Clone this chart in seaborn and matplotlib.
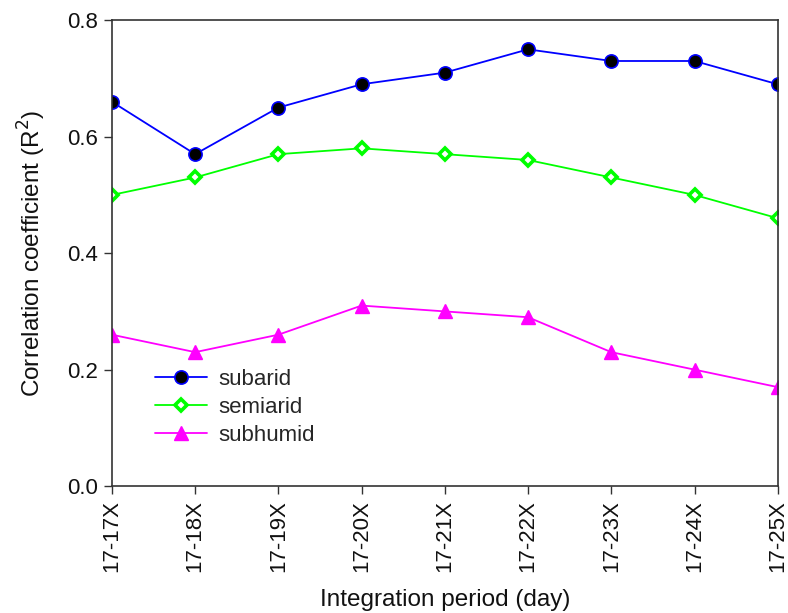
import matplotlib
matplotlib.use("Agg")
import matplotlib.pyplot as plt
import seaborn as sns
import pandas as pd

periods = ["17-17X", "17-18X", "17-19X", "17-20X", "17-21X", "17-22X", "17-23X", "17-24X", "17-25X"]
subarid = [0.66, 0.57, 0.65, 0.69, 0.71, 0.75, 0.73, 0.73, 0.69]
semiarid = [0.50, 0.53, 0.57, 0.58, 0.57, 0.56, 0.53, 0.50, 0.46]
subhumid = [0.26, 0.23, 0.26, 0.31, 0.30, 0.29, 0.23, 0.20, 0.17]
y_ticks = [0.0, 0.2, 0.4, 0.6, 0.8]

sns.set_style("white")
plt.rcParams["font.family"] = ["Liberation Sans", "DejaVu Sans"]

fig = plt.figure(figsize=(7.88, 6.13), dpi=100)
ax = fig.add_axes([0.142, 0.207, 0.845, 0.760])

idx = list(range(len(periods)))
styles = [
    ("subarid", subarid, dict(color="#0000ff", marker="o", markersize=9.5,
                              markerfacecolor="black", markeredgecolor="#0000ff", markeredgewidth=1.2)),
    ("semiarid", semiarid, dict(color="#00ff00", marker="D", markersize=6.5,
                                markerfacecolor="white", markeredgecolor="#00ff00", markeredgewidth=2.6)),
    ("subhumid", subhumid, dict(color="#ff00ff", marker="^", markersize=10,
                                markerfacecolor="#ff00ff", markeredgecolor="#ff00ff", markeredgewidth=1)),
]
for name, vals, kw in styles:
    df = pd.DataFrame({"x": idx, "y": vals})
    sns.lineplot(data=df, x="x", y="y", ax=ax, linewidth=1.3, label=name, **kw)

ax.set_xlim(0, len(periods) - 1)
ax.set_ylim(0, 0.8)
ax.set_xticks(idx)
ax.set_xticklabels(periods, rotation=90, fontsize=16)
ax.set_yticks(y_ticks)
ax.set_yticklabels([f"{t:.1f}" for t in y_ticks], fontsize=16)
ax.tick_params(axis="both", direction="out", length=6, width=1, color="#333333",
               bottom=True, left=True, pad=4, labelcolor="#111111")
for s in ax.spines.values():
    s.set_color("#333333")
    s.set_linewidth(1.2)

ax.set_xlabel("Integration period (day)", fontsize=17.5, labelpad=12, color="#111111")
ax.set_ylabel("Correlation coefficient (R$^2$)", fontsize=17.5, labelpad=14, color="#111111")

ax.legend(loc="upper left", bbox_to_anchor=(0.052, 0.27), frameon=False,
          fontsize=16, handlelength=2.3, handletextpad=0.55, labelspacing=0.3,
          borderaxespad=0)

fig.savefig("out.png", dpi=100)
